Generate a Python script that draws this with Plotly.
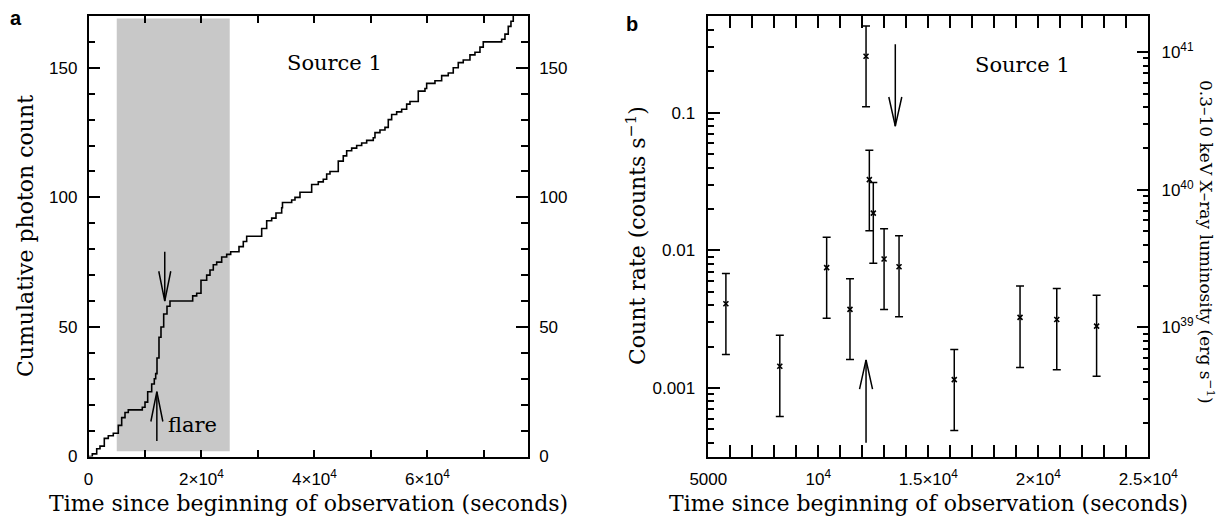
import math
import plotly.graph_objects as go

# The page body has an 8 px margin, so the figure is drawn 8 px in from the corner.
OFF = 8
W, H = 1225 - OFF, 517 - OFF

# ---------------- Panel a: cumulative photon count (step vertices) ----------------
cum_time = [0, 673, 1451, 2036, 2797, 3505, 4390, 5275, 5876, 6461,
            7045, 9523, 10001, 10478, 11186, 11647, 11894, 12125, 12478, 12833,
            13310, 13895, 14426, 18443, 19151, 19913, 20921, 21506, 22090, 22691,
            23576, 24461, 25169, 26639, 27400, 28001, 30656, 31541, 32426, 33188,
            34196, 34338, 35966, 36551, 37436, 39506, 40675, 41560, 42161, 42746,
            44215, 45100, 45701, 46586, 47471, 48356, 49241, 50410, 50711, 51596,
            52481, 53065, 53666, 54551, 55436, 56321, 56906, 58375, 59561, 59861,
            61331, 62516, 63685, 64570, 65455, 66340, 67526, 68411, 69296, 69880,
            73136, 73721, 74305, 74783, 75190]
cum_count = [0, 1, 3, 4, 7, 8, 9, 12, 15, 17,
             18, 19, 21, 25, 28, 30, 32, 38, 46, 50,
             55, 58, 60, 62, 63, 68, 70, 72, 74, 75,
             77, 78, 79, 81, 83, 85, 88, 91, 92, 94,
             96, 98, 99, 100, 102, 105, 106, 107, 109, 110,
             114, 116, 118, 119, 120, 121, 122, 123, 125, 126,
             127, 130, 132, 133, 134, 136, 137, 141, 142, 144,
             145, 147, 148, 150, 152, 153, 155, 156, 158, 160,
             161, 163, 166, 168, 170]

shade_time = [5000, 25000]
shade_count = [2, 169]

a_xticks = [0, 20000, 40000, 60000]
a_xticktext = ["0", "2×10<sup>4</sup>", "4×10<sup>4</sup>", "6×10<sup>4</sup>"]
a_yticks = [0, 50, 100, 150]

# arrows in panel a: x, tail, tip
arrow_a_x = [12100, 13500]
arrow_a_tail = [6, 79]
arrow_a_tip = [25, 60]
arrow_a_headlen = 11.5      # counts
arrow_a_headhalf = 1060     # seconds

# ---------------- Panel b: count rate light curve ----------------
rate_time = [5800, 8250, 10380, 11440, 12170, 12320, 12500, 12990, 13670,
             16180, 19170, 20840, 22650]
rate = [0.0041, 0.00144, 0.0075, 0.00373, 0.258, 0.0327, 0.0187, 0.00867, 0.00762,
        0.00115, 0.00326, 0.00315, 0.00282]
rate_hi = [0.0068, 0.00242, 0.0125, 0.00623, 0.428, 0.0534, 0.0312, 0.0144, 0.0128,
           0.00191, 0.00551, 0.0053, 0.00472]
rate_lo = [0.00175, 0.000622, 0.00321, 0.00161, 0.1106, 0.0139, 0.00807, 0.00373, 0.0033,
           0.000492, 0.00141, 0.00136, 0.00122]

b_xticks = [5000, 10000, 15000, 20000, 25000]
b_xticktext = ["5000", "10<sup>4</sup>", "1.5×10<sup>4</sup>", "2×10<sup>4</sup>", "2.5×10<sup>4</sup>"]
b_yticks = [0.001, 0.01, 0.1]
b_yticktext = ["0.001", "0.01", "0.1"]
lum_ticks = [1e39, 1e40, 1e41]
lum_ticktext = ["10<sup>39</sup>", "10<sup>40</sup>", "10<sup>41</sup>"]
rate_range = [0.000318, 0.506]
lum_per_rate = 3.62e41

arrow_b_x = [12170, 13500]
arrow_b_tail = [0.0004, 0.315]
arrow_b_tip = [0.0016, 0.08]
arrow_b_headfac = 1.63
arrow_b_headhalf = 295

SERIF = "DejaVu Serif"
SANS = "Liberation Sans"


def px(X):
    return (X - OFF) / W


def py(Y):
    return 1 - (Y - OFF) / H


def arrow_path(xs, tails, tips, headlen, headhalf, log=False):
    ax, ay = [], []
    for x, t0, t1 in zip(xs, tails, tips):
        if log:
            base = t1 / headlen if t1 > t0 else t1 * headlen
        else:
            base = t1 - headlen if t1 > t0 else t1 + headlen
        ax += [x, x, None, x - headhalf, x, x + headhalf, None]
        ay += [t0, t1, None, base, t1, base, None]
    return ax, ay


fig = go.Figure()

# panel a curve
fig.add_trace(go.Scatter(x=cum_time, y=cum_count, mode="lines", line_shape="hv",
                         line=dict(color="black", width=1.6), xaxis="x", yaxis="y",
                         showlegend=False, hoverinfo="skip"))
ax, ay = arrow_path(arrow_a_x, arrow_a_tail, arrow_a_tip, arrow_a_headlen, arrow_a_headhalf)
fig.add_trace(go.Scatter(x=ax, y=ay, mode="lines", line=dict(color="black", width=1.5),
                         xaxis="x", yaxis="y", showlegend=False, hoverinfo="skip"))
fig.add_trace(go.Scatter(x=[None], y=[None], xaxis="x", yaxis="y3", showlegend=False,
                         hoverinfo="skip"))

# panel b points
fig.add_trace(go.Scatter(
    x=rate_time, y=rate, mode="markers",
    marker=dict(symbol="x-thin", size=5, color="black", line=dict(width=1.6, color="black")),
    error_y=dict(type="data", symmetric=False,
                 array=[h - r for h, r in zip(rate_hi, rate)],
                 arrayminus=[r - l for r, l in zip(rate, rate_lo)],
                 color="black", thickness=1.5, width=4),
    xaxis="x2", yaxis="y2", showlegend=False, hoverinfo="skip"))
bx, by = arrow_path(arrow_b_x, arrow_b_tail, arrow_b_tip, arrow_b_headfac, arrow_b_headhalf, log=True)
fig.add_trace(go.Scatter(x=bx, y=by, mode="lines", line=dict(color="black", width=1.5),
                         xaxis="x2", yaxis="y2", showlegend=False, hoverinfo="skip"))
fig.add_trace(go.Scatter(x=[None], y=[None], xaxis="x2", yaxis="y4", showlegend=False,
                         hoverinfo="skip"))

tickfont = dict(family=SANS, size=17, color="black")
common = dict(showgrid=False, zeroline=False, showline=True, linecolor="black", linewidth=1.5,
              ticks="inside", tickcolor="black", tickwidth=1.5, tickfont=tickfont,
              automargin=False, fixedrange=True)

ydom = [py(456.5), py(16)]

fig.update_layout(
    width=W, height=H, margin=dict(l=0, r=0, t=0, b=0),
    paper_bgcolor="white", plot_bgcolor="white",
    xaxis=dict(domain=[px(88.5), px(528)], anchor="y", range=[0, 77800],
               tickmode="array", tickvals=a_xticks, ticktext=a_xticktext, ticklen=7,
               mirror="allticks", ticklabelstandoff=6,
               minor=dict(tickmode="linear", tick0=0, dtick=10000, ticks="inside", ticklen=7,
                          tickwidth=1.5, tickcolor="black"),
               **common),
    yaxis=dict(domain=ydom, anchor="x", range=[0, 170],
               tickmode="array", tickvals=a_yticks, ticklen=12, mirror=True,
               ticklabelstandoff=6,
               minor=dict(tickmode="linear", tick0=0, dtick=10, ticks="inside", ticklen=7,
                          tickwidth=1.5, tickcolor="black"),
               **common),
    yaxis3=dict(overlaying="y", side="right", anchor="x", range=[0, 170],
                tickmode="array", tickvals=a_yticks, ticklen=12, ticklabelstandoff=6,
                minor=dict(tickmode="linear", tick0=0, dtick=10, ticks="inside", ticklen=7,
                           tickwidth=1.5, tickcolor="black"),
                **common),
    xaxis2=dict(domain=[px(708.3), px(1148.3)], anchor="y2", range=[5000, 25000],
                tickmode="array", tickvals=b_xticks, ticktext=b_xticktext, ticklen=12,
                mirror="allticks", ticklabelstandoff=6,
                minor=dict(tickmode="linear", tick0=0, dtick=1000, ticks="inside", ticklen=6,
                           tickwidth=1.5, tickcolor="black"),
                **common),
    yaxis2=dict(domain=ydom, anchor="x2", type="log",
                range=[math.log10(rate_range[0]), math.log10(rate_range[1])],
                tickmode="array", tickvals=b_yticks, ticktext=b_yticktext, ticklen=12,
                mirror=True, ticklabelstandoff=8,
                minor=dict(dtick="D1", ticks="inside", ticklen=6, tickwidth=1.5,
                           tickcolor="black"),
                **common),
    yaxis4=dict(overlaying="y2", side="right", anchor="x2", type="log",
                range=[math.log10(rate_range[0] * lum_per_rate),
                       math.log10(rate_range[1] * lum_per_rate)],
                tickmode="array", tickvals=lum_ticks, ticktext=lum_ticktext, ticklen=12,
                ticklabelstandoff=8,
                minor=dict(dtick="D1", ticks="inside", ticklen=6, tickwidth=1.5,
                           tickcolor="black"),
                **common),
    shapes=[dict(type="rect", xref="x", yref="y", x0=shade_time[0], x1=shade_time[1],
                 y0=shade_count[0], y1=shade_count[1], fillcolor="#c8c8c8",
                 line=dict(width=0), layer="below")],
)

txt = dict(family=SERIF, size=21, color="black")
ttl = dict(family=SERIF, size=22, color="black")
rttl = dict(family=SERIF, size=17, color="black")


def pa(text, X, Y, font, angle=0):
    return dict(text=text, x=px(X), y=py(Y), xref="paper", yref="paper", showarrow=False,
                xanchor="center", yanchor="middle", textangle=angle, font=font)


bold = dict(family=SANS, size=20, color="black", weight="bold")
annotations = [
    pa("a", 16, 18, bold),
    pa("b", 632, 24, bold),
    dict(text="Source 1", x=43630, y=152, xref="x", yref="y", showarrow=False,
         xanchor="center", yanchor="middle", font=txt),
    dict(text="flare", x=13660, y=12.2, xref="x", yref="y", xanchor="left", yanchor="middle",
         showarrow=False, font=txt),
    dict(text="Source 1", x=19260, y=math.log10(0.222), xref="x2", yref="y2", showarrow=False,
         xanchor="center", yanchor="middle", font=txt),
    pa("Time since beginning of observation (seconds)", 308, 503, ttl),
    pa("Time since beginning of observation (seconds)", 928, 503, ttl),
    pa("Cumulative photon count", 25, 236, ttl, -90),
    pa("Count rate (counts s<sup>−1</sup>)", 636, 236, ttl, -90),
    pa("0.3–10 keV X–ray luminosity (erg s<sup>−1</sup>)", 1207, 242, rttl, 90),
]
fig.update_layout(annotations=annotations)

fig.write_html("out.html")
